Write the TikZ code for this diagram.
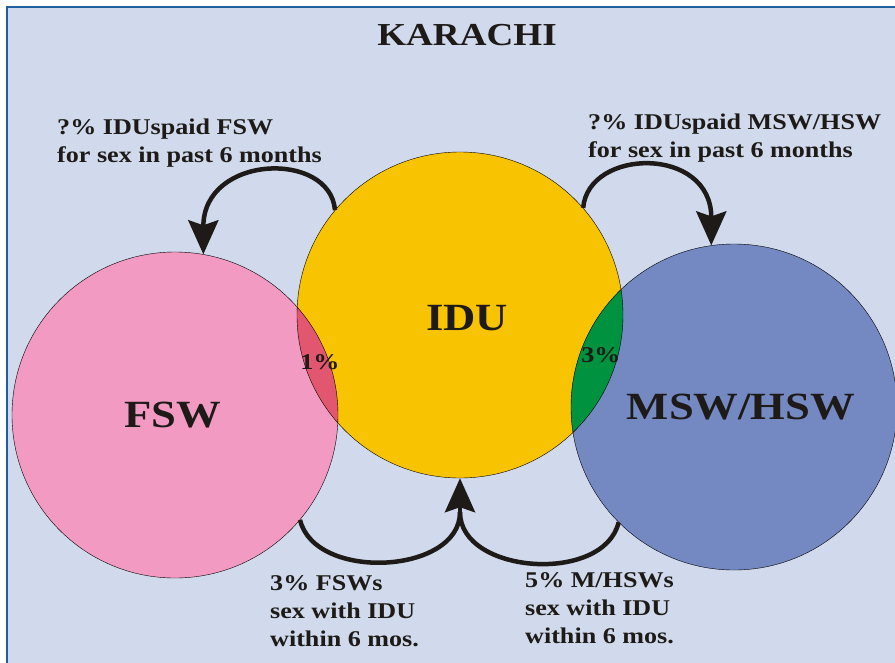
\documentclass[tikz,border=0pt]{standalone}
\usepackage{fontspec}
\setmainfont{Liberation Serif}[FakeStretch=1.16]
\usetikzlibrary{arrows.meta,positioning,calc}
\definecolor{Panel}{HTML}{D0DAEC}
\definecolor{Frame}{HTML}{1F5FA0}
\definecolor{Pink}{HTML}{F29AC2}
\definecolor{Gold}{HTML}{F8C300}
\definecolor{Slate}{HTML}{7489C2}
\definecolor{Rose}{HTML}{E2566F}
\definecolor{Leaf}{HTML}{00923F}
\definecolor{Ink}{HTML}{1E1A17}

\begin{document}
\begin{tikzpicture}[x=1pt,y=-1pt,font=\bfseries\fontsize{22.5}{28}\selectfont]
        \tikzset{group/.style={circle,minimum size=326pt,inner sep=0pt},
          big/.style={font=\bfseries\fontsize{38.5}{44}\selectfont,text=Ink},
          label/.style={anchor=north west,align=left,inner sep=0pt,text=Ink},
          loop/.style={line width=4.5pt,Ink},
          tip/.style={loop,-{Stealth[length=34pt,width=30pt,inset=5pt]}}}
        \clip (0,0) rectangle (895,662);
        \draw[Frame,line width=2pt,fill=Panel] (7,7) rectangle (910,680);
        % the three groups
        \node[group,fill=Pink] (fsw) at (175,415) {};
        \node[group,fill=Gold] (idu) at (460,315) {};
        \node[group,fill=Slate] (msw) at (734,407) {};
        \begin{scope}
          \clip (fsw.center) circle[radius=163pt];
          \fill[Rose] (idu.center) circle[radius=163pt];
        \end{scope}
        \begin{scope}
          \clip (msw.center) circle[radius=163pt];
          \fill[Leaf] (idu.center) circle[radius=163pt];
        \end{scope}
        \draw[thin] (fsw.center) circle[radius=163pt] (idu.center) circle[radius=163pt] (msw.center) circle[radius=163pt];
        \node[big] (fswtxt) at ([xshift=-2pt]fsw.center) {FSW};
        \node[big] (idutxt) at ([xshift=7pt,yshift=-3pt]idu.center) {IDU};
        \node[big] (mswtxt) at ([xshift=7pt]msw.center) {MSW/HSW};
        \node[text=Ink] (one) at (320,362) {1\%};
        \node[text=Ink] (three) at (601,355) {3\%};
        \node[font=\bfseries\fontsize{32}{36}\selectfont,text=Ink] (title) at (467,35) {KARACHI};
        % flows between groups
        \draw[tip] (idu.140) .. controls +(-5,-60) and +(0,-100) .. (fsw.80);
        \draw[tip] (idu.41) .. controls +(5,-60) and +(0,-100) .. (msw.98);
        \coordinate (meet) at ([yshift=-34pt]idu.south);
        \draw[loop] (fsw.-40) .. controls +(15,62) and +(0,62) .. (meet);
        \draw[loop] (msw.225) .. controls +(-15,62) and +(0,62) .. (meet);
        \draw[tip] (meet) -- (idu.south);
        % notes
        \node[label] (paidfsw) at (57,119) {?\% IDUspaid FSW\\for sex in past 6 months};
        \node[label] (paidmsw) at (588,114) {?\% IDUspaid MSW/HSW\\for sex in past 6 months};
        \node[label] (fswsex) at (270,575) {3\% FSWs\\sex with IDU\\within 6 mos.};
        \node[label] (mswsex) at (525,572) {5\% M/HSWs\\sex with IDU\\within 6 mos.};
      \end{tikzpicture}
\end{document}
